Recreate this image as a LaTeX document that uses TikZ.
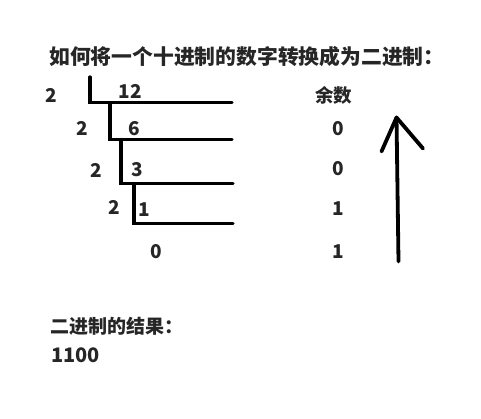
\documentclass[tikz,border=0pt]{standalone}
\usepackage{fontspec}
\newfontfamily\cjk{Noto Sans CJK SC}
\begin{document}
\begin{tikzpicture}[x=1pt,y=-1pt,
  txt/.style={font=\cjk\bfseries\fontsize{19}{22}\selectfont, inner sep=0pt, text=black!85},
  num/.style={font=\cjk\bfseries\fontsize{19}{22}\selectfont, inner sep=0pt, text=black!85},
  bar/.style={line width=3.3pt, line cap=round},
  arr/.style={line width=3.8pt, line cap=round, line join=round}]
\useasboundingbox[fill=white] (0,0) rectangle (481,418);
% title
\node[txt, anchor=west, font=\cjk\bfseries\fontsize{20.8}{24}\selectfont] (title) at (49,57) {如何将一个十进制的数字转换成为二进制：};
% division diagram
\coordinate (v1t) at (90,77);
\coordinate (v1b) at (90,102.7);
\coordinate (h1e) at (232,102.7);
\coordinate (v2b) at (110,139.5);
\coordinate (h2e) at (232,139.5);
\coordinate (v3b) at (121,183.5);
\coordinate (h3e) at (233,183.5);
\coordinate (v4b) at (134,223.5);
\coordinate (h4e) at (233,223.5);
\draw[bar] (v1t) -- (v1b) -- (h1e);
\draw[bar] (v1b -| v2b) -- (v2b) -- (h2e);
\draw[bar] (v2b -| v3b) -- (v3b) -- (h3e);
\draw[bar] (v3b -| v4b) -- (v4b) -- (h4e);
\node[num] (d1) at (51,95) {2};
\node[num] (q1) at (130,91.5) {12};
\node[num] (d2) at (82,128.5) {2};
\node[num] (q2) at (134.5,128.5) {6};
\node[num] (d3) at (96.5,170) {2};
\node[num] (q3) at (137,170) {3};
\node[num] (d4) at (114.5,207) {2};
\node[num] (q4) at (144.5,210) {1};
\node[num] (q5) at (156,251.5) {0};
% remainders
\node[txt, font=\cjk\bfseries\fontsize{18.5}{21}\selectfont] (ys) at (333.5,95) {余数};
\node[num] (r1) at (338.5,128.5) {0};
\node[num] (r2) at (338.5,168.5) {0};
\node[num] (r3) at (338.5,208.5) {1};
\node[num] (r4) at (338.5,251.5) {1};
% arrow
\coordinate (ab) at (398.5,261.5);
\coordinate (at) at (396.5,117.5);
\coordinate (al) at (381.5,151.5);
\coordinate (ar) at (423,148.5);
\draw[arr] (ab) -- (at);
\draw[arr] (al) -- (at) -- (ar);
% result
\node[txt, anchor=west] (res) at (50.5,326.5) {二进制的结果：};
\node[num, anchor=west, font=\cjk\bfseries\fontsize{20}{23}\selectfont] (val) at (51,355) {1100};
\end{tikzpicture}
\end{document}
